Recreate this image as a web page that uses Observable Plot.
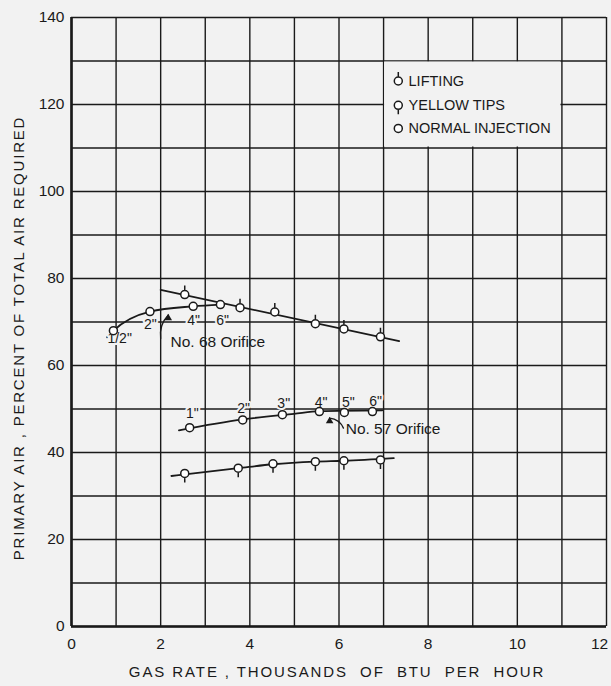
<!DOCTYPE html>
<html>
<head>
<meta charset="utf-8">
<script src="https://cdn.jsdelivr.net/npm/d3@7"></script>
<script src="https://cdn.jsdelivr.net/npm/@observablehq/plot@0.6"></script>
<style>
  html, body { margin: 0; padding: 0; background: #f2f2f2; }
  #chart svg { display: block; background: #f2f2f2; }
</style>
</head>
<body>
<div id="chart"></div>
<script>
// ---- data ----
const xTicks = [0, 2, 4, 6, 8, 10];
const xTickLast = [12];
const yTicks = [0, 20, 40, 60, 80, 100, 120, 140];

// Lifting points and fitted line
const liftX = [2.54, 3.78, 4.56, 5.47, 6.11, 6.93];
const liftY = [76.3, 73.3, 72.3, 69.6, 68.4, 66.6];
const liftLineX = [2.0, 7.35];
const liftLineY = [77.4, 65.6];

// Normal injection, No. 68 orifice
const n68X = [0.94, 1.76, 2.73, 3.34];
const n68Y = [68.0, 72.4, 73.6, 74.0];
const n68LineX = [0.80, 0.94, 1.76, 2.73, 3.34];
const n68LineY = [66.5, 68.0, 72.4, 73.6, 74.0];
const n68Labels = ['1/2"', '2"', '4"', '6"'];
const n68LabelX = [1.08, 1.77, 2.74, 3.39];
const n68LabelY = [66.1, 69.4, 70.3, 70.3];

// Normal injection, No. 57 orifice
const n57X = [2.65, 3.84, 4.73, 5.56, 6.12, 6.75];
const n57Y = [45.7, 47.5, 48.7, 49.4, 49.2, 49.4];
const n57LineX = [2.41, 3.84, 4.99, 5.56, 6.97];
const n57LineY = [45.1, 47.6, 48.9, 49.5, 49.7];
const n57Labels = ['1"', '2"', '3"', '4"', '5"', '6"'];
const n57LabelX = [2.71, 3.86, 4.76, 5.60, 6.21, 6.82];
const n57LabelY = [48.9, 50.0, 51.3, 51.6, 51.6, 51.8];

// Yellow tips
const yelX = [2.54, 3.74, 4.52, 5.47, 6.11, 6.93];
const yelY = [35.2, 36.4, 37.4, 37.9, 38.1, 38.3];
const yelLineX = [2.24, 3.74, 4.52, 5.47, 6.11, 7.23];
const yelLineY = [34.6, 36.4, 37.3, 37.9, 38.1, 38.7];

// Orifice annotations
const orificeLabels = ["No. 68 Orifice", "No. 57 Orifice"];
const orificeTextX = [2.22, 6.15];
const orificeTextY = [65.4, 45.5];
const arrowTailX = [2.0, 6.1];
const arrowTailY = [66.2, 45.6];
const arrowTipX = [2.17, 5.79];
const arrowTipY = [71.6, 47.9];

// Legend
const legendLabels = ["LIFTING", "YELLOW TIPS", "NORMAL INJECTION"];
const legendY = [125.4, 119.8, 114.5];

// Titles
const xTitle = "GAS RATE , THOUSANDS  OF  BTU  PER  HOUR";
const yTitle = "PRIMARY AIR , PERCENT OF TOTAL AIR REQUIRED";

// ---- helpers ----
const bg = "#f2f2f2";
const ink = "#1a1a1a";
const pts = (xs, ys) => xs.map((x, i) => ({x, y: ys[i]}));
const circleSym = {draw(ctx, size) { const r = Math.sqrt(size / Math.PI); ctx.moveTo(r, 0); ctx.arc(0, 0, r, 0, 2 * Math.PI); }};
const liftSym = {draw(ctx, size) { const r = Math.sqrt(size / Math.PI); ctx.moveTo(r, 0); ctx.arc(0, 0, r, 0, 2 * Math.PI); ctx.moveTo(0, -r); ctx.lineTo(0, -r - 5); }};
const yelSym = {draw(ctx, size) { const r = Math.sqrt(size / Math.PI); ctx.moveTo(r, 0); ctx.arc(0, 0, r, 0, 2 * Math.PI); ctx.moveTo(0, r); ctx.lineTo(0, r + 5); }};
const dotOpts = {x: "x", y: "y", r: 4, fill: "white", stroke: ink, strokeWidth: 1.5};
const legendSyms = [liftSym, yelSym, circleSym];
const arrows = arrowTailX.map((x1, i) => ({x1, y1: arrowTailY[i], x2: arrowTipX[i], y2: arrowTipY[i], bend: i === 0 ? 25 : -30}));

const chart = Plot.plot({
  width: 611,
  height: 686,
  marginLeft: 71,
  marginRight: 5,
  marginTop: 17,
  marginBottom: 60,
  style: {fontFamily: "'Liberation Sans', Arial, sans-serif", background: bg, color: ink},
  x: {domain: [0, 12]},
  y: {domain: [0, 140]},
  marks: [
    Plot.ruleX(d3.range(0, 13), {stroke: ink, strokeWidth: 1.4}),
    Plot.ruleY(d3.range(0, 150, 10), {stroke: ink, strokeWidth: 1.4}),
    Plot.ruleX([0], {stroke: ink, strokeWidth: 2.6}),
    Plot.ruleY([0], {stroke: ink, strokeWidth: 2.6}),
    // legend white-out
    Plot.rect([{x1: 7, x2: 11, y1: 110, y2: 130}], {x1: "x1", x2: "x2", y1: "y1", y2: "y2", fill: bg, insetLeft: 1, insetRight: 1, insetTop: 1, insetBottom: 1}),
    Plot.axisX({ticks: xTicks, tickSize: 0, tickPadding: 11, fontSize: 15.5, label: null}),
    Plot.axisX({ticks: xTickLast, tickSize: 0, tickPadding: 11, fontSize: 15.5, label: null, dx: -7}),
    Plot.axisY({ticks: yTicks, tickSize: 0, tickPadding: 7, fontSize: 15.5, label: null}),
    Plot.text([xTitle], {frameAnchor: "bottom", dy: 50, fontSize: 15, fill: ink, text: d => d, dx: -2}),
    Plot.text([yTitle], {frameAnchor: "left", textAnchor: "middle", rotate: -90, dx: -52, dy: 16, fontSize: 15, fill: ink, text: d => d}),
    // fitted lines
    Plot.line(pts(liftLineX, liftLineY), {x: "x", y: "y", stroke: ink, strokeWidth: 1.8}),
    Plot.line(pts(n68LineX, n68LineY), {x: "x", y: "y", stroke: ink, strokeWidth: 1.8, curve: "monotone-x"}),
    Plot.line(pts(n57LineX, n57LineY), {x: "x", y: "y", stroke: ink, strokeWidth: 1.8, curve: "monotone-x"}),
    Plot.line(pts(yelLineX, yelLineY), {x: "x", y: "y", stroke: ink, strokeWidth: 1.8, curve: "monotone-x"}),
    // orifice size labels
    Plot.text(pts(n68LabelX, n68LabelY).map((d, i) => ({...d, t: n68Labels[i]})), {x: "x", y: "y", text: "t", fontSize: 14, fill: ink, stroke: bg, strokeWidth: 4}),
    Plot.text(pts(n57LabelX, n57LabelY).map((d, i) => ({...d, t: n57Labels[i]})), {x: "x", y: "y", text: "t", fontSize: 14, fill: ink, stroke: bg, strokeWidth: 4}),
    // markers
    Plot.dot(pts(liftX, liftY), {...dotOpts, symbol: liftSym}),
    Plot.dot(pts(n68X, n68Y), {...dotOpts, symbol: circleSym}),
    Plot.dot(pts(n57X, n57Y), {...dotOpts, symbol: circleSym}),
    Plot.dot(pts(yelX, yelY), {...dotOpts, symbol: yelSym}),
    // orifice annotations
    ...arrows.map(a => Plot.arrow([a], {x1: "x1", y1: "y1", x2: "x2", y2: "y2", bend: a.bend, headLength: 0, stroke: ink, strokeWidth: 1.3})),
    Plot.dot(pts(arrowTipX, arrowTipY), {x: "x", y: "y", symbol: "triangle", r: 2.8, fill: ink, stroke: "none", dy: 3}),
    Plot.text(pts(orificeTextX, orificeTextY).map((d, i) => ({...d, t: orificeLabels[i]})), {x: "x", y: "y", text: "t", textAnchor: "start", fontSize: 15.5, fill: ink}),
    // legend
    ...legendLabels.map((lab, i) => Plot.dot([{x: 7.33, y: legendY[i]}], {...dotOpts, symbol: legendSyms[i]})),
    Plot.text(legendLabels.map((t, i) => ({t, x: 7.56, y: legendY[i]})), {x: "x", y: "y", text: "t", textAnchor: "start", fontSize: 14.5, fill: ink})
  ]
});
// wider lettering for the axis titles, like the reference's lettering
d3.select(chart).selectAll("text")
  .filter(function() { return this.textContent === xTitle; })
  .attr("letter-spacing", 1.9).style("white-space", "pre");
d3.select(chart).selectAll("text")
  .filter(function() { return this.textContent === yTitle; })
  .attr("letter-spacing", 1.8).style("white-space", "pre");
document.getElementById("chart").appendChild(chart);
</script>
</body>
</html>
